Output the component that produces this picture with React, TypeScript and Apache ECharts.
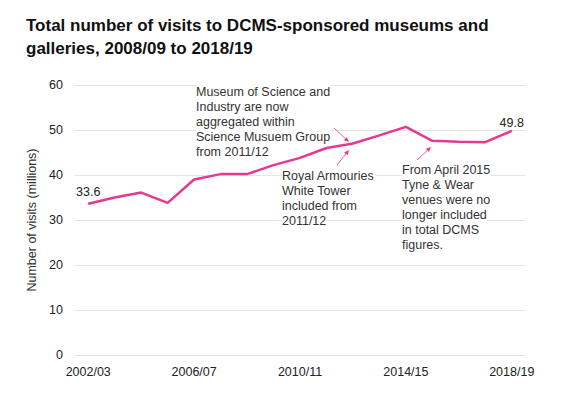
import React, { useEffect, useRef } from "react";
import * as echarts from "echarts";

const categories = [
  "2002/03", "2003/04", "2004/05", "2005/06", "2006/07", "2007/08", "2008/09",
  "2009/10", "2010/11", "2011/12", "2012/13", "2013/14", "2014/15", "2015/16",
  "2016/17", "2017/18", "2018/19",
];
const visits = [33.6, 35.0, 36.1, 33.8, 39.0, 40.2, 40.2, 42.2, 43.8, 46.0, 47.0, 48.8, 50.7, 47.6, 47.4, 47.3, 49.8];
const labelledIndices = [0, 16];

const titleText = "Total number of visits to DCMS-sponsored museums and\ngalleries, 2008/09 to 2018/19";
const noteScience = ["Museum of Science and", "Industry are now", "aggregated within", "Science Musuem Group", "from 2011/12"];
const noteArmouries = ["Royal Armouries", "White Tower", "included from", "2011/12"];
const noteTyne = ["From April 2015", "Tyne & Wear", "venues were no", "longer included", "in total DCMS", "figures."];

const PINK = "#e8388d";
const FONT = "Liberation Sans, Arial, sans-serif";

function noteText(lines: string[], x: number, y: number) {
  return lines.map((line, i) => ({
    type: "text",
    left: x,
    top: y + i * 15,
    z: 10,
    style: {
      text: line,
      font: `12.5px ${FONT}`,
      fill: "#333",
      lineHeight: 13,
      backgroundColor: "#fff",
    },
  }));
}

function arrow(x1: number, y1: number, x2: number, y2: number) {
  const ang = Math.atan2(y2 - y1, x2 - x1);
  const L = 5, W = 2.2;
  const bx = x2 - L * Math.cos(ang), by = y2 - L * Math.sin(ang);
  const px = -Math.sin(ang) * W, py = Math.cos(ang) * W;
  return [
    { type: "line", z: 11, shape: { x1, y1, x2: bx, y2: by }, style: { stroke: PINK, lineWidth: 0.8 } },
    {
      type: "polygon",
      z: 11,
      shape: { points: [[x2, y2], [bx + px, by + py], [bx - px, by - py]] },
      style: { fill: PINK },
    },
  ];
}

export default function App() {
  const ref = useRef<HTMLDivElement>(null);
  useEffect(() => {
    if (!ref.current) return;
    const chart = echarts.init(ref.current, undefined, { renderer: "svg" });
    const seriesData = visits.map((v, i) =>
      labelledIndices.includes(i)
        ? { value: v, label: { show: true, distance: i === 0 ? 5 : 1 } }
        : { value: v }
    );
    chart.setOption({
      animation: false,
      backgroundColor: "#fff",
      textStyle: { fontFamily: FONT },
      title: {
        text: titleText,
        left: 21,
        top: 9,
        textStyle: { fontSize: 17, fontWeight: "bold", color: "#111", fontFamily: FONT, lineHeight: 23 },
      },
      grid: { left: 75, right: 38, top: 85, bottom: 42 },
      xAxis: {
        type: "category",
        data: categories,
        boundaryGap: true,
        axisTick: { show: false },
        axisLine: { show: false },
        axisLabel: { interval: 3, color: "#222", fontSize: 12.5, margin: 10, fontFamily: FONT },
      },
      yAxis: {
        type: "value",
        min: 0,
        max: 60,
        interval: 10,
        name: "Number of visits (millions)",
        nameLocation: "middle",
        nameGap: 23,
        nameTextStyle: { color: "#333", fontSize: 12.5, fontFamily: FONT },
        axisLine: { show: false },
        axisTick: { show: false },
        axisLabel: { color: "#222", fontSize: 12.5, margin: 12, fontFamily: FONT },
        splitLine: { lineStyle: { color: "#e4e4e4", width: 1 } },
      },
      series: [
        {
          type: "line",
          data: seriesData,
          symbol: "circle",
          symbolSize: 1,
          showSymbol: true,
          itemStyle: { color: PINK },
          lineStyle: { color: PINK, width: 2.5 },
          label: { show: false, position: "top", distance: 5, color: "#222", fontSize: 12.5, fontFamily: FONT },
        },
      ],
      graphic: [
        ...noteText(noteScience, 196, 85),
        ...noteText(noteArmouries, 282, 169),
        ...noteText(noteTyne, 402, 163.5),
        ...arrow(334, 128, 349, 142),
        ...arrow(337, 165, 349, 150),
        ...arrow(417, 160, 431, 147),
      ],
    });
    return () => chart.dispose();
  }, []);
  return (
    <div
      ref={ref}
      style={{ position: "absolute", left: 0, top: 0, width: 563, height: 397 }}
    />
  );
}
